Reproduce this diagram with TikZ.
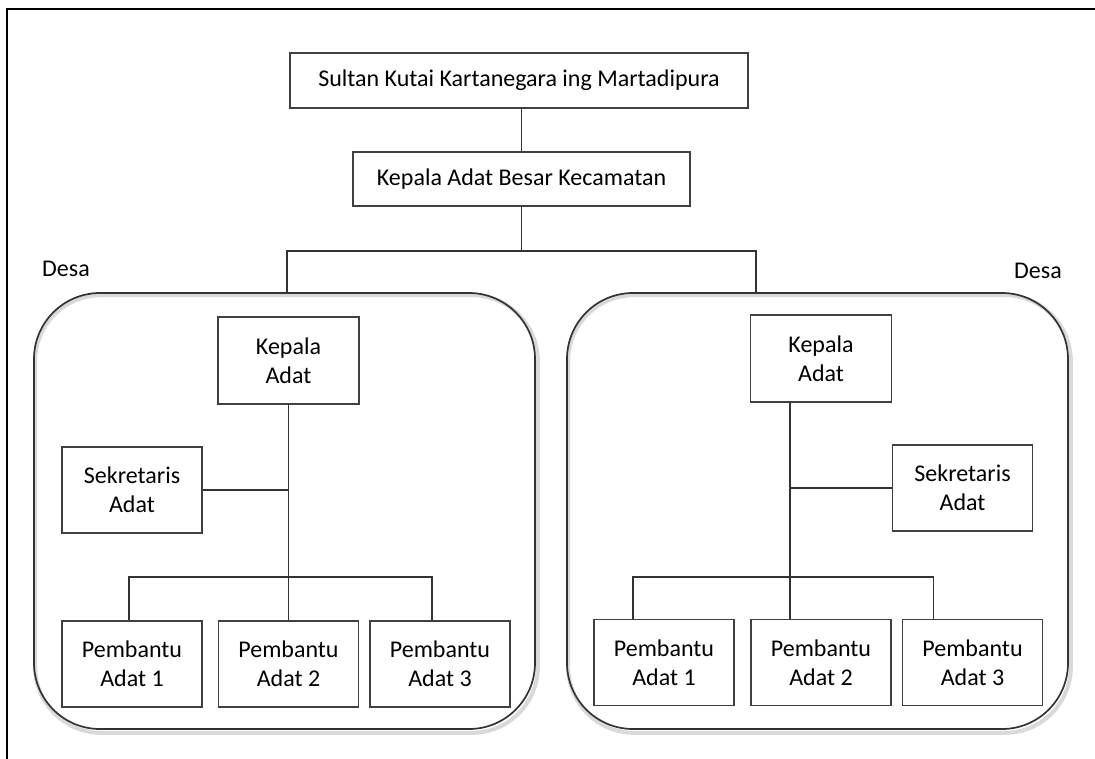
\documentclass[tikz,border=0pt]{standalone}
\usepackage{fontspec}
\setmainfont{Carlito}
\usetikzlibrary{positioning,backgrounds}

\tikzset{
  orgbox/.style={draw=black!75, line width=1.6pt, align=center, inner sep=2pt,
    font=\fontsize{24}{29}\selectfont},
  smallbox/.style={orgbox, minimum width=140pt, minimum height=86pt},
  conn/.style={draw=black!80, line width=1.6pt},
  desabox/.style={draw=black!80, line width=1.7pt, rounded corners=66pt,
    minimum width=501pt, minimum height=436pt},
  desashadow/.style={draw=black!15, line width=4pt, rounded corners=66pt},
  desalabel/.style={font=\fontsize{24}{29}\selectfont, inner sep=1pt},
  frame/.style={draw=black, line width=2.5pt}
}

\begin{document}
\begin{tikzpicture}[x=1pt,y=-1pt]
\useasboundingbox (0,0) rectangle (1095,758);
\draw[frame] (7,762) -- (7,9) -- (1100,9);

% top of the hierarchy
\node[orgbox, minimum width=458pt, minimum height=55pt] (sultan) at (519,80.5) {Sultan Kutai Kartanegara ing Martadipura};
\node[orgbox, minimum width=337pt, minimum height=54pt] (besar) at (521.5,179) {Kepala Adat Besar Kecamatan};

% the two villages
\node[desabox] (desaL) at (284.5,511) {};
\node[desabox] (desaR) at (817.5,511) {};
\begin{scope}[on background layer]
\foreach \d in {desaL,desaR}
  \draw[desashadow] ([shift={(2,3)}]\d.north west) rectangle ([shift={(2,3)}]\d.south east);
\end{scope}
\node[desalabel] (labL) at (66,269) {Desa};
\node[desalabel] (labR) at (1038,271) {Desa};

% left village
\node[orgbox, minimum width=141pt, minimum height=87pt] (kepL) at (288.5,360.5) {Kepala\\Adat};
\node[smallbox] (sekL) at (132,490) {Sekretaris\\Adat};
\foreach \i/\x in {1/132,2/288.5,3/440} {
    \node[smallbox] (pL\i) at (\x,664) {Pembantu\\Adat \i};
}

% right village
\node[orgbox, minimum width=141pt, minimum height=87pt] (kepR) at (821,358.5) {Kepala\\Adat};
\node[smallbox] (sekR) at (962.5,488) {Sekretaris\\Adat};
\foreach \i/\x in {1/664,2/821,3/972.5} {
    \node[smallbox] (pR\i) at (\x,662.5) {Pembantu\\Adat \i};
}
\coordinate (spineR) at ([xshift=-31pt]kepR.south);

% connectors
\draw[conn] (sultan.south -| besar.north) -- (besar.north);
\draw[conn] (besar.south) -- ++(0,44) coordinate (fork);
\draw[conn] ([xshift=2.5pt]desaL.north) |- (fork) -| ([xshift=-61.5pt]desaR.north);

\draw[conn] (kepL.south) -- (pL2.north);
\draw[conn] (sekL.east) -- (sekL.east -| kepL.south);
\draw[conn] ([xshift=-3pt]pL1.north) -- ++(0,-43) -| ([xshift=-8pt]pL3.north);

\draw[conn] (spineR) -- ([xshift=-31pt]pR2.north);
\draw[conn] (sekR.west) -- (sekR.west -| spineR);
\draw[conn] ([xshift=-31pt]pR1.north) -- ++(0,-41.5) -| ([xshift=-39pt]pR3.north);
\end{tikzpicture}
\end{document}
